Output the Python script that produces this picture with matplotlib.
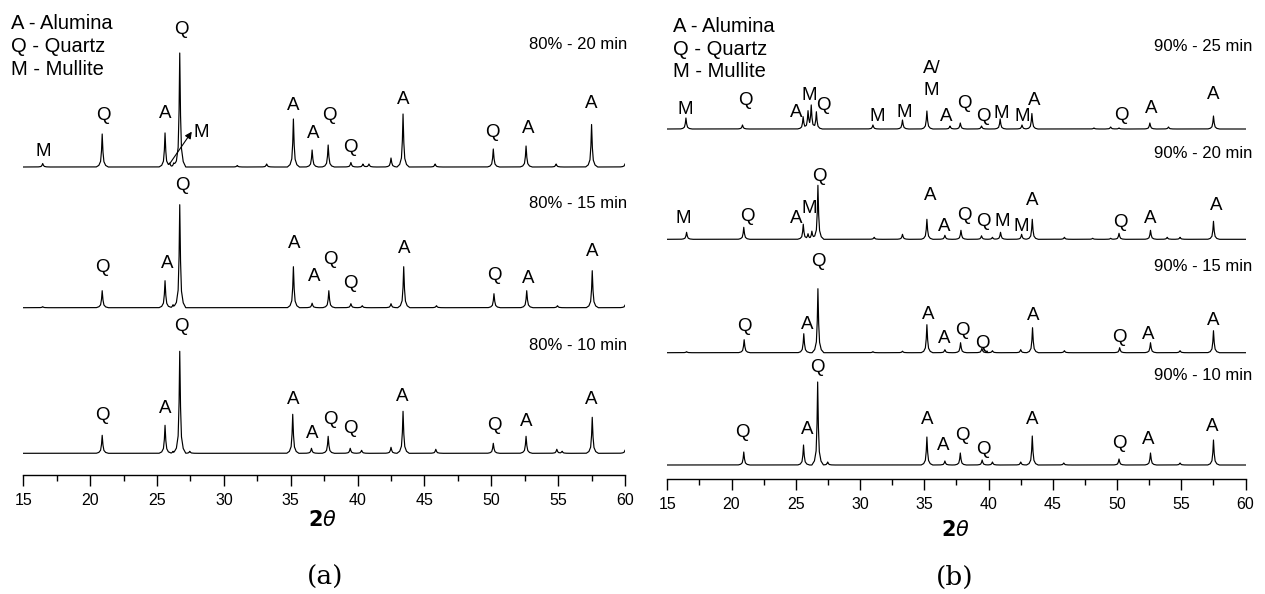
import numpy as np
import matplotlib
matplotlib.use("Agg")
import matplotlib.pyplot as plt
from matplotlib.ticker import MultipleLocator

plt.rcParams['font.family'] = ['Liberation Sans', 'DejaVu Sans']

# ---------------- data (2theta in degrees, intensity in arbitrary units) -------------
x_min, x_max = 15, 60
x_ticks = [15, 20, 25, 30, 35, 40, 45, 50, 55, 60]
legend_lines = ['A - Alumina', 'Q - Quartz', 'M - Mullite']

# Panel (a): 80 %
cond_a = ['80% - 20 min', '80% - 15 min', '80% - 10 min']
theta_a20 = [16.45, 20.9, 25.6, 25.95, 26.25, 26.7, 31.0, 33.2, 35.2, 36.6, 37.8, 39.5, 40.4, 40.85,
             42.5, 43.4, 45.8, 50.15, 52.6, 54.85, 57.5, 60.05]
int_a20 = [3.5, 33, 34, 3, 4, 114, 1.5, 3, 48, 17, 22, 4.5, 3, 3, 9, 53, 3, 18, 21, 3, 42.5, 6]
theta_a15 = [16.45, 20.9, 25.6, 26.2, 26.7, 35.2, 36.6, 37.85, 39.5, 40.35, 42.5, 43.45, 45.9, 50.2,
             52.65, 54.95, 57.55, 60.05]
int_a15 = [1, 17, 27, 3, 103, 41, 4.5, 17, 4, 2, 4, 41, 2, 14, 17, 2, 37, 5]
theta_a10 = [20.9, 25.6, 26.2, 26.7, 27.45, 35.15, 36.55, 37.8, 39.45, 40.3, 42.5, 43.4, 45.85, 50.15,
             52.6, 54.9, 55.3, 57.55, 60.05]
int_a10 = [18, 28, 2, 102, 2, 39, 5, 17, 5, 3, 6, 42, 4, 10, 17, 4, 2, 36, 6]

lab_a20_txt = ['M', 'Q', 'A', 'Q', 'A', 'A', 'Q', 'Q', 'A', 'Q', 'A', 'A']
lab_a20_pos = [16.5, 20.98, 25.6, 26.85, 35.19, 36.65, 37.89, 39.49, 43.42, 50.11, 52.73, 57.51]
lab_a20_hgt = [15.3, 52, 53.7, 137, 62, 33.7, 52, 19.3, 67, 34.3, 38.7, 63.7]
lab_a15_txt = ['Q', 'A', 'Q', 'A', 'A', 'Q', 'Q', 'A', 'Q', 'A', 'A']
lab_a15_pos = [20.89, 25.79, 26.86, 35.25, 36.72, 37.94, 39.47, 43.5, 50.23, 52.76, 57.56]
lab_a15_hgt = [40.4, 44.4, 121.7, 64.4, 31, 47.7, 24.4, 59.4, 31.7, 29.4, 56]
lab_a10_txt = ['Q', 'A', 'Q', 'A', 'A', 'Q', 'Q', 'A', 'Q', 'A', 'A']
lab_a10_pos = [20.89, 25.63, 26.8, 35.16, 36.63, 38.0, 39.47, 43.35, 50.23, 52.58, 57.47]
lab_a10_hgt = [38.3, 45, 126.6, 53.3, 20, 34, 25, 56.6, 27.3, 31.6, 53.3]
# arrow-labelled mullite shoulder on the 80 % - 20 min pattern
arrow_a20_label = 'M'
arrow_a20_from = (25.97, 3.7)
arrow_a20_to = (27.6, 35.3)
arrow_a20_text_at = (28.34, 34.7)

# Panel (b): 90 %
cond_b = ['90% - 25 min', '90% - 20 min', '90% - 15 min', '90% - 10 min']
theta_b25 = [16.45, 20.85, 25.57, 25.95, 26.2, 26.6, 31.0, 33.3, 35.2, 37.0, 37.8, 39.45, 40.9, 42.6,
             43.37, 48.2, 49.5, 50.15, 52.55, 54.0, 57.5]
int_b25 = [11, 4, 12, 17, 23, 17, 4, 9, 18, 3, 6, 3, 10, 4, 15.5, 1, 2, 1, 6, 2, 13]
theta_b20 = [16.5, 20.95, 25.58, 25.95, 26.25, 26.72, 31.1, 33.3, 35.2, 36.6, 37.85, 39.45, 40.3, 40.93,
             42.57, 43.4, 45.9, 48.1, 49.5, 50.15, 52.6, 53.9, 54.9, 57.5]
int_b20 = [7, 12, 15, 5, 8, 54, 2, 5, 20, 4, 9, 3.5, 2, 7, 5, 20, 2, 1, 1, 6, 9, 2, 2, 18]
theta_b15 = [16.5, 20.98, 25.62, 26.72, 31.0, 33.3, 35.2, 36.6, 37.82, 39.48, 40.3, 42.5, 43.42, 45.9,
             50.2, 52.6, 54.9, 57.5]
int_b15 = [1, 13, 19, 64, 1, 1.5, 28, 3, 10, 4.5, 2, 3, 25, 2, 5, 10, 2, 22]
theta_b10 = [20.95, 25.6, 26.7, 27.48, 35.2, 36.6, 37.8, 39.5, 40.3, 42.5, 43.4, 45.85, 50.15, 52.6,
             54.9, 57.5]
int_b10 = [13, 20, 83, 3, 28, 4, 12, 5, 3, 3, 29, 2, 6, 12, 2, 25]

lab_b25_txt = ['M', 'Q', 'A', 'M', 'Q', 'M', 'M', 'A/', 'M', 'A', 'Q', 'Q', 'M', 'M', 'A', 'Q', 'A', 'A']
lab_b25_pos = [16.43, 21.08, 25.0, 26.03, 27.18, 31.3, 33.46, 35.6, 35.57, 36.71, 38.1, 39.56, 40.98,
               42.6, 43.52, 50.33, 52.65, 57.45]
lab_b25_hgt = [20, 29, 17, 34, 24, 13, 16.3, 61, 39, 12.3, 26, 12.3, 16, 13, 29, 14, 21, 35]
lab_b20_txt = ['M', 'Q', 'A', 'M', 'Q', 'A', 'A', 'Q', 'Q', 'M', 'M', 'A', 'Q', 'A', 'A']
lab_b20_pos = [16.28, 21.23, 25.03, 26.03, 26.8, 35.45, 36.53, 38.08, 39.63, 41.09, 42.51, 43.4, 50.24,
               52.56, 57.72]
lab_b20_hgt = [21, 22.6, 21, 31, 63.3, 44.3, 12.6, 24.3, 17.6, 17.6, 12.6, 38.6, 16.6, 21, 34.3]
lab_b15_txt = ['Q', 'A', 'Q', 'A', 'A', 'Q', 'Q', 'A', 'Q', 'A', 'A']
lab_b15_pos = [20.98, 25.87, 26.73, 35.3, 36.53, 37.93, 39.54, 43.5, 50.15, 52.46, 57.5]
lab_b15_hgt = [26, 28.7, 91.7, 38.7, 14.4, 22.7, 9.4, 37.7, 15.4, 18.7, 32.7]
lab_b10_txt = ['Q', 'A', 'Q', 'A', 'A', 'Q', 'Q', 'A', 'Q', 'A', 'A']
lab_b10_pos = [20.85, 25.87, 26.7, 35.21, 36.48, 37.93, 39.57, 43.43, 50.15, 52.46, 57.41]
lab_b10_hgt = [32.3, 35.7, 97.7, 45.7, 20, 30, 15.7, 45.7, 21.7, 25.7, 38.3]

# ---------------- layout / style -------------
W, H = 1265, 594
fig = plt.figure(figsize=(W / 100, H / 100), dpi=100)


def fx(px):
    return px / W


def fy(py):
    return 1 - py / H


# peak shape template (style): offsets in degrees, fraction of peak height
shape_dx = [-0.45, -0.25, -0.12, -0.05, 0.0, 0.05, 0.12, 0.25, 0.45]
shape_fr = [0.0, 0.05, 0.17, 0.5, 1.0, 0.5, 0.17, 0.05, 0.0]
grid = np.linspace(x_min, x_max, 4501)


def profile(centers, heights):
    y = np.zeros_like(grid)
    for c, h in zip(centers, heights):
        y += h * np.interp(grid - c, shape_dx, shape_fr, left=0, right=0)
    return y


LABEL_FS = 13.5
COND_FS = 12
LEG_FS = 14.5


def setup_axis(ax, ytop):
    ax.set_xlim(x_min, x_max)
    ax.set_ylim(0, ytop)
    for s in ['left', 'right', 'top']:
        ax.spines[s].set_visible(False)
    ax.spines['bottom'].set_linewidth(1.0)
    ax.set_yticks([])
    ax.set_xticks(x_ticks)
    ax.set_xticklabels([str(t) for t in x_ticks], fontsize=11.5)
    ax.xaxis.set_minor_locator(MultipleLocator(2.5))
    ax.tick_params(axis='x', which='major', direction='out', length=8, width=1.0, pad=5)
    ax.tick_params(axis='x', which='minor', direction='out', length=4, width=1.0)
    ax.patch.set_alpha(0)


def draw_trace(ax, offset, centers, heights, txt, pos, hgt, cond, cond_h, cond_x):
    ax.plot(grid, offset + profile(centers, heights), color='black', lw=0.85)
    for t, p, h in zip(txt, pos, hgt):
        ax.text(p, offset + h, t, ha='center', va='center', fontsize=LABEL_FS)
    ax.text(cond_x, offset + cond_h, cond, ha='right', va='center', fontsize=COND_FS)


# ---- panel (a)
axA = fig.add_axes([fx(23.3), fy(475), fx(625) - fx(23.3), 475 / H])
setup_axis(axA, 475)
offs_a = [308, 167.3, 21.7]
cond_a_h = [122.7, 104.4, 108.3]
draw_trace(axA, offs_a[0], theta_a20, int_a20, lab_a20_txt, lab_a20_pos, lab_a20_hgt,
           cond_a[0], cond_a_h[0], 60.15)
draw_trace(axA, offs_a[1], theta_a15, int_a15, lab_a15_txt, lab_a15_pos, lab_a15_hgt,
           cond_a[1], cond_a_h[1], 60.15)
draw_trace(axA, offs_a[2], theta_a10, int_a10, lab_a10_txt, lab_a10_pos, lab_a10_hgt,
           cond_a[2], cond_a_h[2], 60.15)
axA.annotate('', xy=(arrow_a20_to[0], offs_a[0] + arrow_a20_to[1]),
             xytext=(arrow_a20_from[0], offs_a[0] + arrow_a20_from[1]),
             arrowprops=dict(arrowstyle='-|>', color='black', lw=0.8, mutation_scale=10,
                             shrinkA=0, shrinkB=0))
axA.text(arrow_a20_text_at[0], offs_a[0] + arrow_a20_text_at[1], arrow_a20_label,
         ha='center', va='center', fontsize=LABEL_FS)

# ---- panel (b)
axB = fig.add_axes([fx(667.3), fy(479), fx(1245.6) - fx(667.3), 479 / H])
setup_axis(axB, 479)
offs_b = [350, 239.7, 126.3, 14]
cond_b_h = [82.3, 86, 86.7, 90]
draw_trace(axB, offs_b[0], theta_b25, int_b25, lab_b25_txt, lab_b25_pos, lab_b25_hgt,
           cond_b[0], cond_b_h[0], 60.5)
draw_trace(axB, offs_b[1], theta_b20, int_b20, lab_b20_txt, lab_b20_pos, lab_b20_hgt,
           cond_b[1], cond_b_h[1], 60.5)
draw_trace(axB, offs_b[2], theta_b15, int_b15, lab_b15_txt, lab_b15_pos, lab_b15_hgt,
           cond_b[2], cond_b_h[2], 60.5)
draw_trace(axB, offs_b[3], theta_b10, int_b10, lab_b10_txt, lab_b10_pos, lab_b10_hgt,
           cond_b[3], cond_b_h[3], 60.5)

# legends (phase keys)
for i, line in enumerate(legend_lines):
    fig.text(fx(11), fy(23.3 + 23 * i), line, ha='left', va='center', fontsize=LEG_FS)
    fig.text(fx(673), fy(26.7 + 22.5 * i), line, ha='left', va='center', fontsize=LEG_FS)

# axis titles and panel letters
fig.text(fx(322), fy(520), r'$\mathbf{2}\mathit{\theta}$', ha='center', va='center', fontsize=15)
fig.text(fx(955), fy(530), r'$\mathbf{2}\mathit{\theta}$', ha='center', va='center', fontsize=15)
fig.text(fx(325), fy(577), '(a)', ha='center', va='center', fontsize=19, family='DejaVu Serif')
fig.text(fx(955), fy(577), '(b)', ha='center', va='center', fontsize=19, family='DejaVu Serif')

fig.savefig('out.png', dpi=100)
